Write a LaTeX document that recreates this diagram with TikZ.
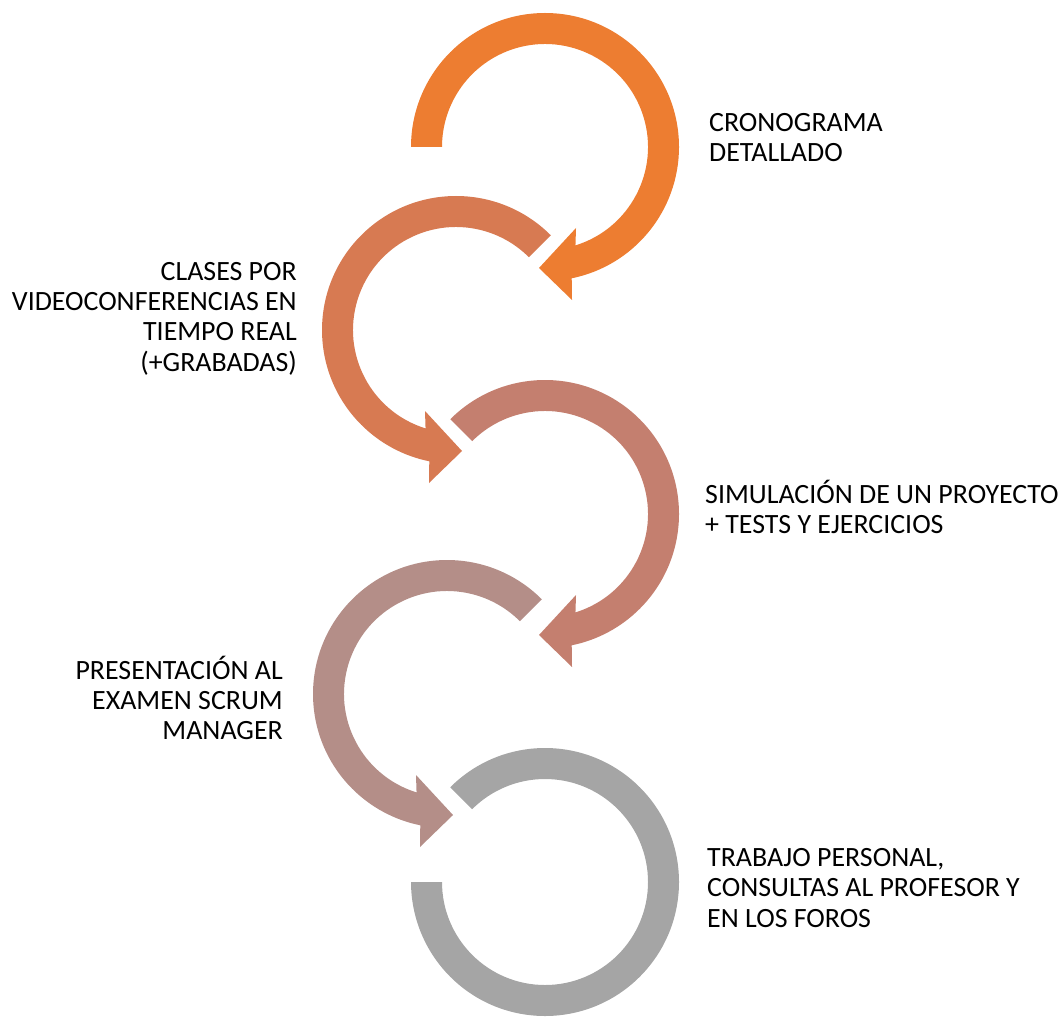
\documentclass[tikz,border=0pt]{standalone}
\usepackage{fontspec}
\setmainfont{Carlito}
\usetikzlibrary{calc}

\definecolor{arrowA}{HTML}{ED7D31}
\definecolor{arrowB}{HTML}{D77A52}
\definecolor{arrowC}{HTML}{C47F6F}
\definecolor{arrowD}{HTML}{B48E88}
\definecolor{arrowE}{HTML}{A5A5A5}

\tikzset{
  label text/.style={inner sep=0pt, font=\fontsize{27.9}{30.4}\selectfont},
  left text/.style={label text, anchor=west, align=left},
  right text/.style={label text, anchor=east, align=right}
}

\begin{document}
\begin{tikzpicture}[x=1pt, y=1pt]
          \useasboundingbox (0,0) rectangle (1064,-1016);

          \coordinate (c1) at (545,-147);
          \coordinate (c2) at (456,-330);
          \coordinate (c3) at (545,-514);
          \coordinate (c4) at (447,-694);
          \coordinate (c5) at (545,-882);

          % first arrow, clockwise
          \fill[arrowA] ($(c1)+(180:134)$) arc[start angle=180, end angle=-78.5, radius=134pt]
          -- ($(c1)+(27,-153)$) -- ($(c1)+(-6,-121)$) -- ($(c1)+(31,-81)$)
          -- ($(c1)+(-72.8:103)$) arc[start angle=-72.8, end angle=180, radius=103pt] -- cycle;

          % second arrow, counterclockwise
          \fill[arrowB] ($(c2)+(45:134)$) arc[start angle=45, end angle=258.5, radius=134pt]
          -- ($(c2)+(-27,-153)$) -- ($(c2)+(6,-121)$) -- ($(c2)+(-31,-81)$)
          -- ($(c2)+(252.8:103)$) arc[start angle=252.8, end angle=45, radius=103pt] -- cycle;

          % third arrow, clockwise
          \fill[arrowC] ($(c3)+(135:134)$) arc[start angle=135, end angle=-78.5, radius=134pt]
          -- ($(c3)+(27,-153)$) -- ($(c3)+(-6,-121)$) -- ($(c3)+(31,-81)$)
          -- ($(c3)+(-72.8:103)$) arc[start angle=-72.8, end angle=135, radius=103pt] -- cycle;

          % fourth arrow, counterclockwise
          \fill[arrowD] ($(c4)+(45:134)$) arc[start angle=45, end angle=258.5, radius=134pt]
          -- ($(c4)+(-27,-153)$) -- ($(c4)+(6,-121)$) -- ($(c4)+(-31,-81)$)
          -- ($(c4)+(252.8:103)$) arc[start angle=252.8, end angle=45, radius=103pt] -- cycle;

          % last one has no head
          \fill[arrowE] ($(c5)+(135:134)$) arc[start angle=135, end angle=-180, radius=134pt]
          -- ($(c5)+(180:103)$) arc[start angle=-180, end angle=135, radius=103pt] -- cycle;

          \node[left text] (cronograma) at (709,-137.5) {CRONOGRAMA\\DETALLADO};
          \node[right text] (clases) at (297,-318.5) {CLASES POR\\VIDEOCONFERENCIAS EN\\TIEMPO REAL\\(+GRABADAS)};
          \node[left text] (simulacion) at (705,-507) {SIMULACIÓN DE UN PROYECTO\\+ TESTS Y EJERCICIOS};
          \node[right text] (presentacion) at (283,-698) {PRESENTACIÓN AL\\EXAMEN SCRUM\\MANAGER};
          \node[left text] (trabajo) at (707,-888) {TRABAJO PERSONAL,\\CONSULTAS AL PROFESOR Y\\EN LOS FOROS};

\end{tikzpicture}
\end{document}
